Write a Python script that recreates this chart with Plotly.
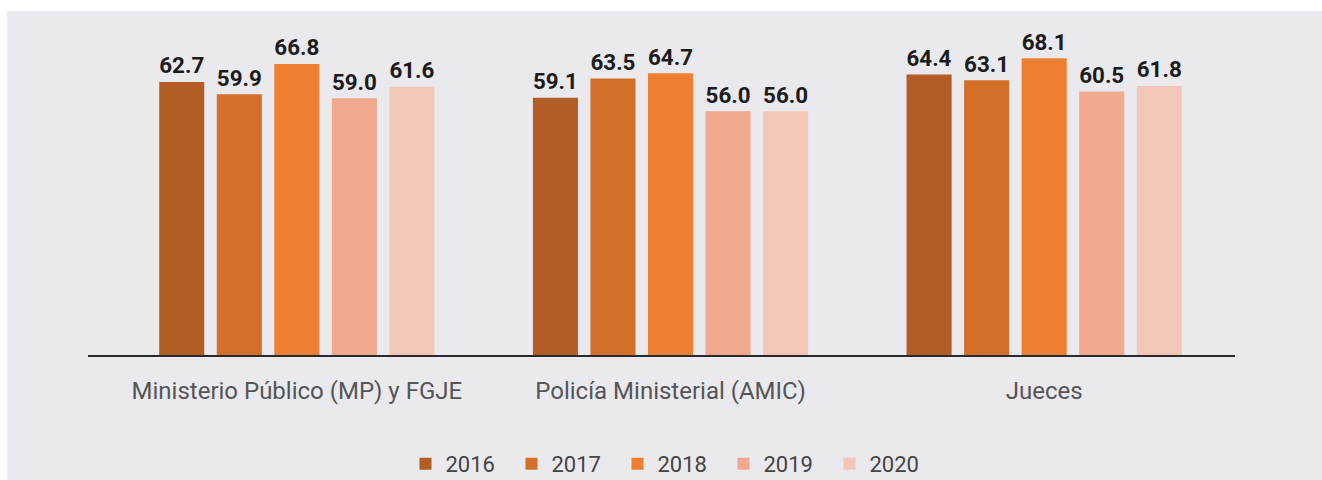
import plotly.graph_objects as go

categories = ["Ministerio Público (MP) y FGJE", "Policía Ministerial (AMIC)", "Jueces"]
years = ["2016", "2017", "2018", "2019", "2020"]
values_2016 = [62.7, 59.1, 64.4]
values_2017 = [59.9, 63.5, 63.1]
values_2018 = [66.8, 64.7, 68.1]
values_2019 = [59.0, 56.0, 60.5]
values_2020 = [61.6, 56.0, 61.8]
series = [values_2016, values_2017, values_2018, values_2019, values_2020]
colors = ["#B25D26", "#D2702A", "#EE7F30", "#F0A98C", "#F3C7B8"]

W, H = 1322, 480
L, R, T, B = 110, 91, 28, 123
plot_w = W - L - R
plot_h = H - T - B
BG = "#EAE9EE"


def px_x(p):
    return (p - L) / plot_w


def px_y(p):
    return (H - B - p) / plot_h


fig = go.Figure()
for year, vals, col in zip(years, series, colors):
    fig.add_trace(go.Bar(
        name=year,
        x=categories,
        y=vals,
        marker=dict(color=col, line=dict(width=0)),
        text=[f"{v:.1f}" for v in vals],
        textposition="outside",
        textfont=dict(family="Roboto", size=24, color="#1b1b1b", weight="bold"),
        cliponaxis=False,
    ))

shapes = [
    # white strips at the top and left edges
    dict(type="rect", xref="paper", yref="paper",
         x0=px_x(0), x1=px_x(W), y0=px_y(11), y1=px_y(-5),
         fillcolor="white", line=dict(width=0), layer="below"),
    dict(type="rect", xref="paper", yref="paper",
         x0=px_x(-5), x1=px_x(7), y0=px_y(H + 5), y1=px_y(-5),
         fillcolor="white", line=dict(width=0), layer="below"),
    # baseline
    dict(type="line", xref="paper", yref="y",
         x0=px_x(88), x1=px_x(1235), y0=0, y1=0,
         line=dict(color="#2a2a2e", width=4), layer="above"),
]

fig.update_layout(
    width=W, height=H,
    margin=dict(l=L, r=R, t=T, b=B, pad=0, autoexpand=False),
    paper_bgcolor=BG,
    plot_bgcolor=BG,
    barmode="group",
    bargap=0.23,
    bargroupgap=0.217,
    font=dict(family="Roboto", color="#555555"),
    showlegend=True,
    legend=dict(
        orientation="h",
        x=0.5, xanchor="center",
        y=px_y(464), yanchor="middle",
        font=dict(family="Roboto", size=22, color="#444444"),
        bgcolor="rgba(0,0,0,0)",
        itemclick=False,
        entrywidth=61, entrywidthmode="pixels",
    ),
    xaxis=dict(
        showgrid=False, showline=False, zeroline=False,
        ticks="outside", ticklen=12, tickcolor="rgba(0,0,0,0)",
        tickfont=dict(family="Roboto", size=24, color="#555555"),
    ),
    yaxis=dict(
        range=[0, 75], visible=False, showgrid=False, zeroline=False,
    ),
    shapes=shapes,
)

fig.write_html("out.html")
